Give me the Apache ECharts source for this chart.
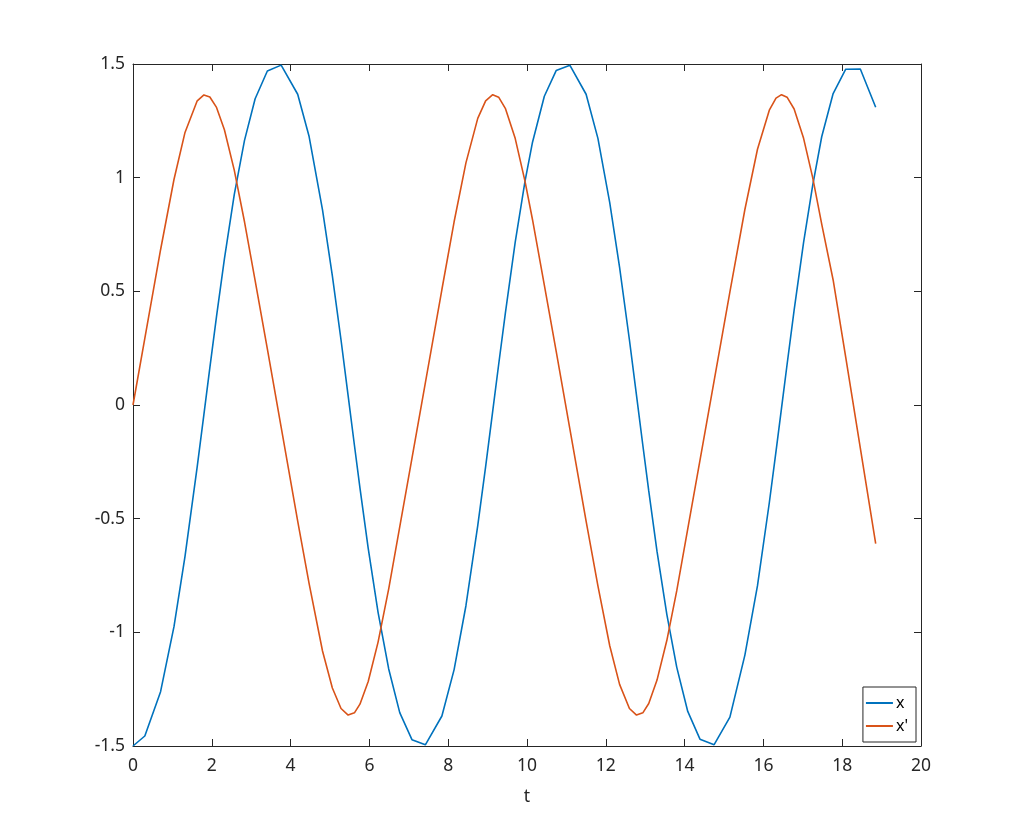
<!DOCTYPE html>
<html>
<head>
<meta charset="utf-8">
<script src="https://cdn.jsdelivr.net/npm/echarts@6/dist/echarts.min.js"></script>
<style>html,body{margin:0;padding:0;background:#fff}#c{width:1020px;height:840px}</style>
</head>
<body>
<div id="c"></div>
<script>
// Time samples (t) read from the plotted vertices
const tValues = [0, 0.30, 0.70, 1.04, 1.32, 1.63, 1.80, 1.95, 2.12, 2.32, 2.57, 2.83, 3.10, 3.41, 3.76, 4.18, 4.47, 4.81, 5.06, 5.28, 5.46, 5.62, 5.76, 5.97, 6.22, 6.49, 6.77, 7.08, 7.42, 7.84, 8.15, 8.45, 8.75, 8.95, 9.13, 9.28, 9.45, 9.70, 9.95, 10.14, 10.44, 10.74, 11.09, 11.50, 11.80, 12.10, 12.35, 12.60, 12.78, 12.94, 13.09, 13.30, 13.55, 13.80, 14.08, 14.39, 14.75, 15.15, 15.53, 15.85, 16.15, 16.32, 16.46, 16.60, 16.78, 17.02, 17.25, 17.48, 17.77, 18.09, 18.46, 18.85];
// x (blue)
const xValues = [-1.5, -1.456, -1.261, -0.975, -0.666, -0.271, -0.041, 0.163, 0.390, 0.643, 0.925, 1.164, 1.347, 1.469, 1.495, 1.367, 1.181, 0.858, 0.568, 0.286, 0.041, -0.177, -0.365, -0.631, -0.912, -1.161, -1.353, -1.472, -1.495, -1.368, -1.164, -0.883, -0.531, -0.271, -0.027, 0.177, 0.403, 0.715, 0.985, 1.156, 1.358, 1.471, 1.494, 1.367, 1.173, 0.890, 0.605, 0.286, 0.041, -0.177, -0.378, -0.644, -0.922, -1.153, -1.348, -1.470, -1.494, -1.373, -1.10, -0.795, -0.430, -0.204, -0.014, 0.177, 0.417, 0.715, 0.965, 1.180, 1.370, 1.477, 1.478, 1.31];
// x' (orange)
const dxValues = [0, 0.293, 0.683, 0.992, 1.199, 1.338, 1.364, 1.355, 1.309, 1.211, 1.033, 0.806, 0.547, 0.247, -0.097, -0.511, -0.786, -1.082, -1.245, -1.335, -1.364, -1.354, -1.316, -1.216, -1.043, -0.809, -0.536, -0.235, 0.097, 0.508, 0.806, 1.065, 1.261, 1.338, 1.365, 1.354, 1.305, 1.173, 0.984, 0.815, 0.527, 0.237, -0.107, -0.511, -0.796, -1.059, -1.229, -1.335, -1.364, -1.354, -1.313, -1.210, -1.035, -0.818, -0.545, -0.244, 0.107, 0.498, 0.860, 1.125, 1.297, 1.350, 1.365, 1.354, 1.302, 1.173, 1.001, 0.796, 0.55, 0.21, -0.19, -0.61];
const xTicks = [0, 2, 4, 6, 8, 10, 12, 14, 16, 18, 20];
const yTicks = [-1.5, -1, -0.5, 0, 0.5, 1, 1.5];
const seriesNames = ['x', "x'"];

const axisColor = '#262626';
const font = 'Noto Sans';
const chart = echarts.init(document.getElementById('c'));
const pairs = (ys) => tValues.map((t, i) => [t, ys[i]]);

chart.setOption({
  animation: false,
  backgroundColor: '#ffffff',
  grid: { left: 133, right: 99, top: 64, bottom: 94, containLabel: false },
  legend: {
    data: seriesNames,
    orient: 'vertical',
    right: 104, top: 687,
    icon: 'rect',
    itemWidth: 27, itemHeight: 2,
    itemGap: 7,
    padding: [8, 8, 8, 3],
    borderColor: axisColor, borderWidth: 1,
    backgroundColor: '#fff',
    textStyle: { fontFamily: font, fontSize: 16, color: '#000', padding: [0, 0, 0, -2] }
  },
  xAxis: [
    {
      type: 'value', min: xTicks[0], max: xTicks[xTicks.length - 1], interval: 2,
      name: 't', nameLocation: 'middle', nameGap: 42,
      nameTextStyle: { fontFamily: font, fontSize: 17.5, color: axisColor },
      axisLine: { show: true, onZero: false, lineStyle: { color: axisColor, width: 1 } },
      axisTick: { show: true, inside: true, length: 7, lineStyle: { color: axisColor } },
      axisLabel: { fontFamily: font, fontSize: 17.5, color: axisColor, margin: 11 },
      splitLine: { show: false }
    },
    {
      type: 'value', position: 'top', min: xTicks[0], max: xTicks[xTicks.length - 1], interval: 2,
      axisLine: { show: true, onZero: false, lineStyle: { color: axisColor, width: 1 } },
      axisTick: { show: true, inside: true, length: 7, lineStyle: { color: axisColor } },
      axisLabel: { show: false }, splitLine: { show: false }
    }
  ],
  yAxis: [
    {
      type: 'value', min: yTicks[0], max: yTicks[yTicks.length - 1], interval: 0.5,
      axisLine: { show: true, onZero: false, lineStyle: { color: axisColor, width: 1 } },
      axisTick: { show: true, inside: true, length: 7, lineStyle: { color: axisColor } },
      axisLabel: { fontFamily: font, fontSize: 17.5, color: axisColor, margin: 8 },
      splitLine: { show: false }
    },
    {
      type: 'value', position: 'right', min: yTicks[0], max: yTicks[yTicks.length - 1], interval: 0.5,
      axisLine: { show: true, onZero: false, lineStyle: { color: axisColor, width: 1 } },
      axisTick: { show: true, inside: true, length: 7, lineStyle: { color: axisColor } },
      axisLabel: { show: false }, splitLine: { show: false }
    }
  ],
  series: [
    {
      name: seriesNames[0], type: 'line', data: pairs(xValues),
      showSymbol: false, symbol: 'none',
      lineStyle: { color: '#0072BD', width: 1.6 }, itemStyle: { color: '#0072BD' }
    },
    {
      name: seriesNames[1], type: 'line', data: pairs(dxValues),
      showSymbol: false, symbol: 'none',
      lineStyle: { color: '#D95319', width: 1.6 }, itemStyle: { color: '#D95319' }
    }
  ]
});
</script>
</body>
</html>
